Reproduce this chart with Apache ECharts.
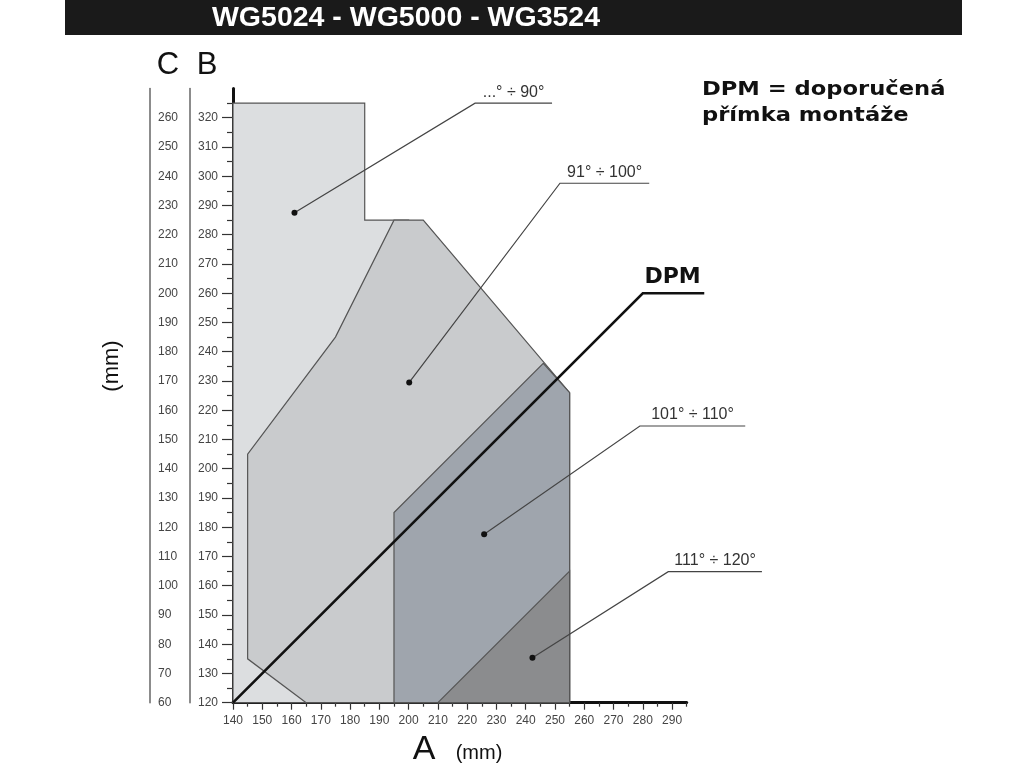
<!DOCTYPE html>
<html>
<head>
<meta charset="utf-8">
<script src="https://cdn.jsdelivr.net/npm/echarts@6/dist/echarts.min.js"></script>
<style>html,body{margin:0;padding:0;background:#fff}#c{width:1024px;height:768px}</style>
</head>
<body>
<div id="c"></div>
<script>
// ---- data ----
const aTicks = [140,150,160,170,180,190,200,210,220,230,240,250,260,270,280,290];
const aMinor = [145,155,165,175,185,195,205,215,225,235,245,255,265,275,285,295];
const bTicks = [120,130,140,150,160,170,180,190,200,210,220,230,240,250,260,270,280,290,300,310,320];
const bMinor = [125,135,145,155,165,175,185,195,205,215,225,235,245,255,265,275,285,295,305,315,325];
const cTicks = [60,70,80,90,100,110,120,130,140,150,160,170,180,190,200,210,220,230,240,250,260];

const regionNames = ['...° ÷ 90°', '91° ÷ 100°', '101° ÷ 110°', '111° ÷ 120°'];
const region1 = [[140,120],[140,325],[185,325],[185,285],[200,285],[200,120]];
const region2 = [[165,120],[145,135],[145,205],[175,245],[195,285],[205,285],[255,226],[255,120]];
const region3 = [[195,120],[195,185],[246,236],[255,226],[255,120]];
const region4 = [[210,120],[255,165],[255,120]];
const dpmLine = [[140,120],[280,260],[301,260]];
const leader1 = [[161,287.5],[222.7,325],[249,325]];
const leader2 = [[200.2,229.5],[251.7,297.6],[282.2,297.6]];
const leader3 = [[225.8,177.6],[279,214.6],[315,214.6]];
const leader4 = [[242.3,135.4],[288.7,164.8],[320.7,164.8]];

const regionColors = ['#dcdee0', '#c9cbcd', '#9fa5ad', '#8b8c8e'];
const regions = [region1, region2, region3, region4];
const leaders = [leader1, leader2, leader3, leader4];

const chart = echarts.init(document.getElementById('c'), null, {renderer: 'canvas'});

function polySeries(pts, color, z) {
  return {
    type: 'custom', coordinateSystem: 'cartesian2d', z: z, silent: true,
    data: pts,
    renderItem: function (params, api) {
      if (params.dataIndex !== 0) return null;
      const p = pts.map(d => api.coord(d));
      return {type: 'polygon', shape: {points: p},
        style: {fill: color, stroke: '#555', lineWidth: 1.2}};
    }
  };
}
function leaderSeries(pts, label, z) {
  return {
    type: 'custom', coordinateSystem: 'cartesian2d', z: z, silent: true, clip: false,
    data: pts,
    renderItem: function (params, api) {
      if (params.dataIndex !== 0) return null;
      const p = pts.map(d => api.coord(d));
      return {type: 'group', children: [
        {type: 'polyline', shape: {points: p}, style: {stroke: '#444', lineWidth: 1.2, fill: null}},
        {type: 'circle', shape: {cx: p[0][0], cy: p[0][1], r: 3}, style: {fill: '#111'}},
        {type: 'text', x: (p[1][0] + p[2][0]) / 2, y: p[1][1] - 3,
          style: {text: label, align: 'center', verticalAlign: 'bottom',
            font: '16px "Liberation Sans", Arial, sans-serif', fill: '#333'}}
      ]};
    }
  };
}

const series = [];
regions.forEach((r, i) => series.push(polySeries(r, regionColors[i], 2 + i)));
series.push({
  type: 'custom', coordinateSystem: 'cartesian2d', z: 10, silent: true, clip: false,
  data: dpmLine,
  renderItem: function (params, api) {
    if (params.dataIndex !== 0) return null;
    const p = dpmLine.map(d => api.coord(d));
    return {type: 'group', children: [
      {type: 'polyline', shape: {points: p}, style: {stroke: '#111', lineWidth: 2.6, fill: null}},
      {type: 'text', x: (p[1][0] + p[2][0]) / 2 - 1, y: p[1][1] - 5,
        style: {text: 'DPM', align: 'center', verticalAlign: 'bottom',
          font: 'bold 22px "DejaVu Sans", sans-serif', fill: '#111'}}
    ]};
  }
});
leaders.forEach((l, i) => series.push(leaderSeries(l, regionNames[i], 11)));

const labelFont = {fontSize: 12, color: '#444', fontFamily: '"Liberation Sans", Arial, sans-serif'};

chart.setOption({
  animation: false,
  grid: {left: 233, top: 88.5, width: 453.7, height: 614.2, outerBoundsMode: 'none', containLabel: false},
  xAxis: [
    {type: 'value', min: 140, max: 295, position: 'bottom',
      axisLine: {show: true, onZero: false, lineStyle: {color: '#111', width: 3}},
      axisTick: {show: true, length: 7, customValues: aTicks, lineStyle: {color: '#333', width: 1.2}},
      axisLabel: Object.assign({customValues: aTicks, margin: 12}, labelFont),
      splitLine: {show: false}},
    {type: 'value', min: 140, max: 295, position: 'bottom',
      axisLine: {show: false},
      axisTick: {show: true, length: 4, customValues: aMinor, lineStyle: {color: '#333', width: 1.2}},
      axisLabel: {show: false}, splitLine: {show: false}}
  ],
  yAxis: [
    {type: 'value', min: 120, max: 330, position: 'left',
      axisLine: {show: true, onZero: false, lineStyle: {color: '#111', width: 3}},
      axisTick: {show: true, length: 11, customValues: bTicks, lineStyle: {color: '#333', width: 1.2}},
      axisLabel: Object.assign({customValues: bTicks, margin: 15}, labelFont),
      splitLine: {show: false}},
    {type: 'value', min: 120, max: 330, position: 'left',
      axisLine: {show: false},
      axisTick: {show: true, length: 6, customValues: bMinor, lineStyle: {color: '#333', width: 1.2}},
      axisLabel: {show: false}, splitLine: {show: false}},
    {type: 'value', min: 60, max: 270, position: 'left', offset: 83,
      axisLine: {show: true, onZero: false, lineStyle: {color: '#666', width: 1.5}},
      axisTick: {show: false},
      axisLabel: Object.assign({customValues: cTicks, margin: 8, inside: true}, labelFont),
      splitLine: {show: false}},
    {type: 'value', min: 60, max: 270, position: 'left', offset: 43,
      axisLine: {show: true, onZero: false, lineStyle: {color: '#666', width: 1.5}},
      axisTick: {show: false}, axisLabel: {show: false}, splitLine: {show: false}}
  ],
  series: series,
  graphic: [
    {type: 'rect', left: 65, top: 0, shape: {width: 897, height: 35}, style: {fill: '#1a1a1a'}, z: 100},
    {type: 'text', x: 406, y: 18, z: 101,
      style: {text: 'WG5024 - WG5000 - WG3524', align: 'center', verticalAlign: 'middle',
        font: 'bold 28.5px "Liberation Sans", Arial, sans-serif', fill: '#fff'}},
    {type: 'text', x: 168, y: 65, z: 101,
      style: {text: 'C', align: 'center', verticalAlign: 'middle', font: '31px "Liberation Sans", Arial, sans-serif', fill: '#111'}},
    {type: 'text', x: 207, y: 65, z: 101,
      style: {text: 'B', align: 'center', verticalAlign: 'middle', font: '31px "Liberation Sans", Arial, sans-serif', fill: '#111'}},
    {type: 'text', x: 112, y: 366, rotation: Math.PI / 2, z: 101,
      style: {text: '(mm)', align: 'center', verticalAlign: 'middle', font: '22px "Liberation Sans", Arial, sans-serif', fill: '#111'}},
    {type: 'text', x: 424, y: 750, z: 101,
      style: {text: 'A', align: 'center', verticalAlign: 'middle', font: '34px "Liberation Sans", Arial, sans-serif', fill: '#111'}},
    {type: 'text', x: 479, y: 753, z: 101,
      style: {text: '(mm)', align: 'center', verticalAlign: 'middle', font: '20px "Liberation Sans", Arial, sans-serif', fill: '#111'}},
    {type: 'text', x: 702, y: 77, z: 101, scaleX: 1.16,
      style: {text: 'DPM = doporučená\npřímka montáže', align: 'left', verticalAlign: 'top', lineHeight: 26,
        font: 'bold 19.5px "DejaVu Sans", sans-serif', fill: '#111'}}
  ]
});
</script>
</body>
</html>
